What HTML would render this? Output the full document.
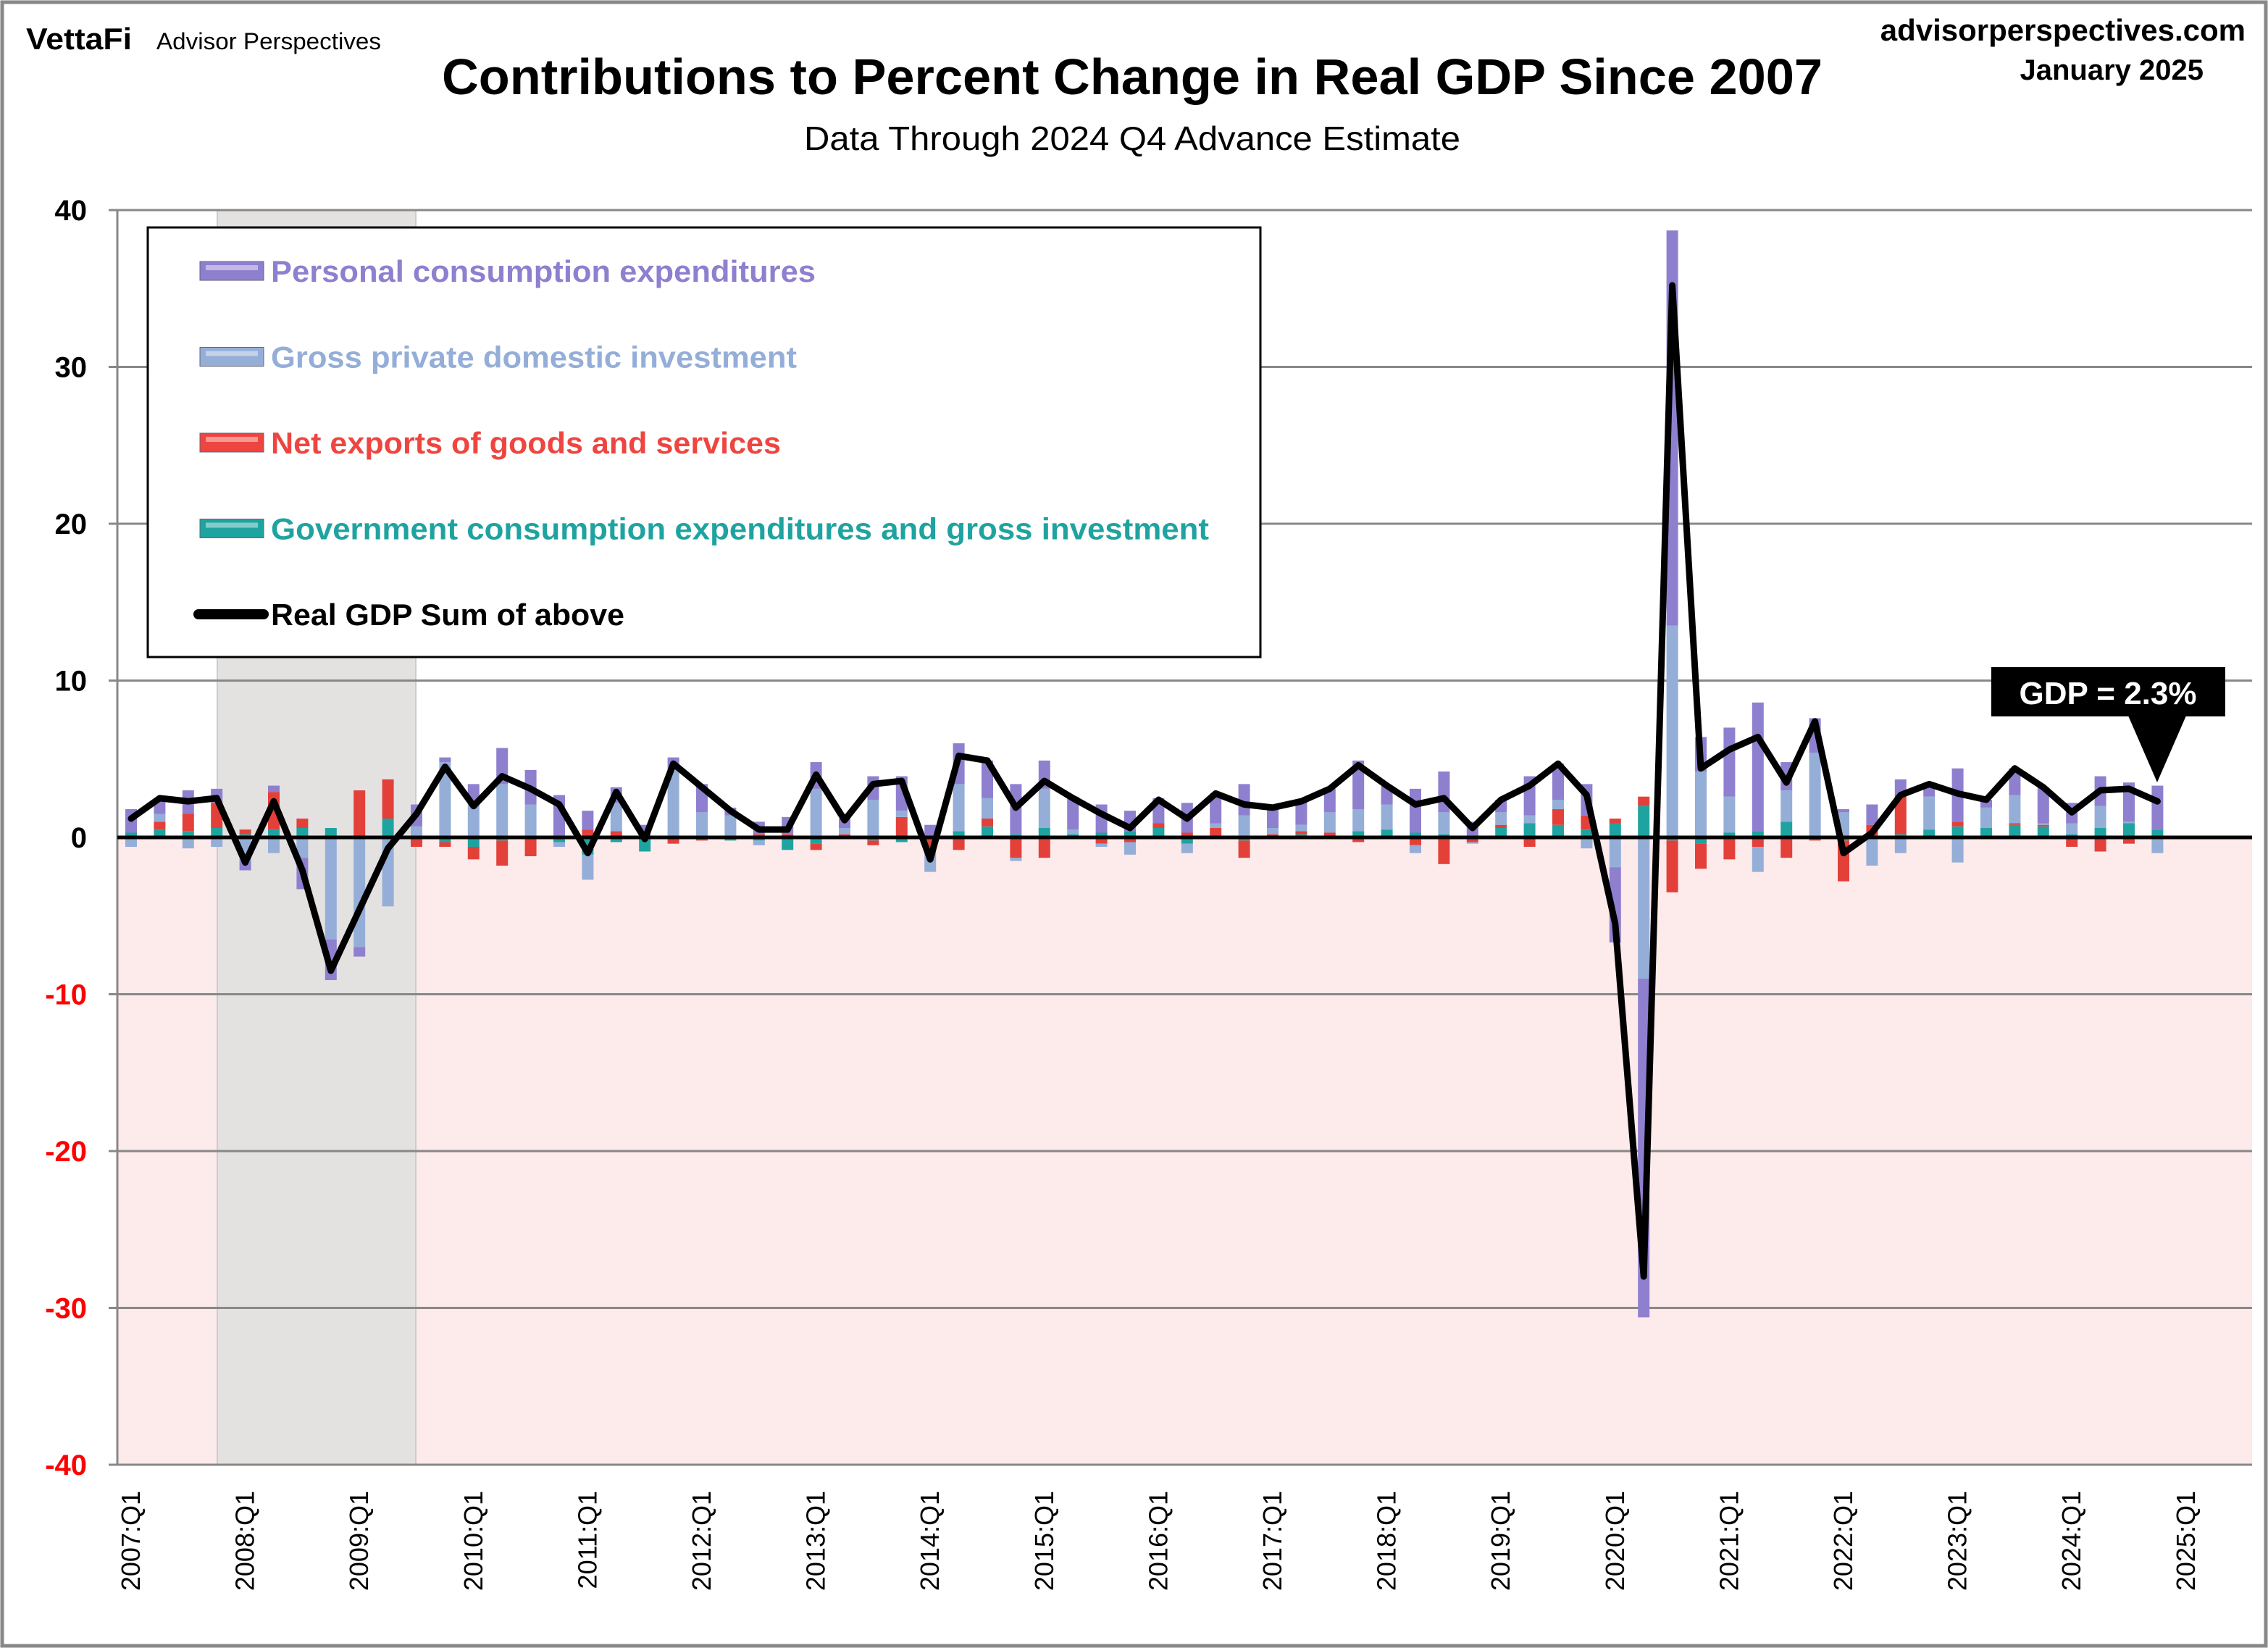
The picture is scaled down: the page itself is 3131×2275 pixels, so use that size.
<!DOCTYPE html>
<html><head><meta charset="utf-8"><style>
html,body{margin:0;padding:0;background:#fff}
body{width:3131px;height:2275px;overflow:hidden;position:relative;font-family:"Liberation Sans",sans-serif}
</style></head><body>
<svg id="c" width="3131" height="2275" xmlns="http://www.w3.org/2000/svg" style="position:absolute;left:0;top:0">
<rect x="3" y="3" width="3125" height="2269" fill="#fff" stroke="#888" stroke-width="5"/>
<text x="36" y="68" font-size="42" font-weight="bold" fill="#000" textLength="146" lengthAdjust="spacingAndGlyphs">VettaFi</text>
<text x="216" y="68" font-size="32" fill="#000" textLength="310" lengthAdjust="spacingAndGlyphs">Advisor Perspectives</text>
<text x="3100" y="56" font-size="42" font-weight="bold" text-anchor="end">advisorperspectives.com</text>
<text x="3042" y="110" font-size="40" font-weight="bold" text-anchor="end">January 2025</text>
<text x="1563" y="130" font-size="70" font-weight="bold" text-anchor="middle" textLength="1906" lengthAdjust="spacingAndGlyphs">Contributions to Percent Change in Real GDP Since 2007</text>
<text x="1563" y="207" font-size="46" text-anchor="middle" textLength="906" lengthAdjust="spacingAndGlyphs">Data Through 2024 Q4 Advance Estimate</text>
<g id="plot"></g>
</svg>
<script>
const NS="http://www.w3.org/2000/svg";
const g=document.getElementById('plot');
function el(t,a,txt){const e=document.createElementNS(NS,t);for(const k in a)e.setAttribute(k,a[k]);if(txt!==undefined)e.textContent=txt;g.appendChild(e);return e;}
const L=162,R=3109,Y0=1156,U=21.65;
const y=v=>Y0-v*U;
el('rect',{x:L,y:Y0,width:R-L,height:y(-40)-Y0,fill:'#fdeaea'});
el('rect',{x:300,y:y(40),width:274,height:y(-40)-y(40),fill:'#e4e1e1',stroke:'#ccc','stroke-width':2});
for(let v=-40;v<=40;v+=10){ if(v===0)continue;
 el('line',{x1:L-12,x2:R,y1:y(v),y2:y(v),stroke:'#888','stroke-width':3});
 el('text',{x:120,y:y(v)+14,'font-size':40,'font-weight':'bold','text-anchor':'end',fill:v<0?'#f00':'#000'},String(v));
}
el('text',{x:120,y:y(0)+14,'font-size':40,'font-weight':'bold','text-anchor':'end'},'0');
el('line',{x1:L,x2:L,y1:y(40),y2:y(-40),stroke:'#888','stroke-width':3});
const D=[[1.5,-0.6,0,0.3],[1,0.5,0.5,0.5],[1.5,-0.7,1.1,0.4],[0.9,-0.6,1.6,0.6],
[-0.6,-1.5,0.3,0.2],[0.4,-1,2.4,0.5],[-2,-1.3,0.6,0.6],[-2.6,-6.5,0,0.6],
[-0.6,-7,3,0],[0,-4.4,2.5,1.2],[1.4,0.6,-0.6,0.1],[0.3,4.8,-0.3,-0.3],
[1.3,2.1,-0.8,-0.6],[2.3,3.4,-1.6,-0.2],[2.2,2.1,-1.2,0],[2.6,-0.3,0.1,-0.3],
[1.2,-1.6,0.5,-1.1],[1,1.8,0.4,-0.3],[0.6,0.2,0,-0.9],[0.8,4.3,-0.3,-0.1],
[1.8,1.6,-0.2,0],[0.5,1.4,0,-0.2],[0.8,-0.3,0.2,-0.2],[1.1,0,0.2,-0.8],
[1.7,3.1,-0.4,-0.4],[0.6,0.4,0.2,-0.1],[1.5,2.4,-0.3,-0.2],[2.2,0.4,1.3,-0.3],
[0.7,-1.5,-0.7,0.1],[2.6,3,-0.8,0.4],[2.4,1.3,0.5,0.7],[3.2,-0.2,-1.3,0.2],
[1.8,2.5,-1.3,0.6],[2.1,0.3,-0.1,0.2],[1.8,-0.2,-0.4,0.3],[1.3,-0.8,-0.3,0.4],
[1.6,-0.1,0.3,0.6],[1.9,-0.6,0.3,-0.4],[1.9,0.3,0.5,0.1],[2,1.4,-1.1,-0.2],
[1.3,0.4,0.2,0],[1.5,0.4,0.2,0.2],[1.5,1.3,0.3,0],[3.1,1.4,-0.3,0.4],
[1.2,1.6,0,0.5],[2.8,-0.5,-0.5,0.3],[2.6,1.4,-1.7,0.2],[1,-0.1,-0.3,0],
[0.8,0.8,0.2,0.6],[2.5,0.5,-0.6,0.9],[2.3,0.6,1,0.8],[2,-0.7,0.9,0.5],
[-4.8,-1.9,0.3,0.9],[-21.6,-9,0.6,2],[25.2,13.5,-3.3,-0.2],[2.2,4.2,-1.6,-0.4],
[4.4,2.3,-1.4,0.3],[8.2,-1.6,-0.6,0.4],[1.8,2,-1.3,1],[2.2,5.3,-0.2,0.1],
[0.2,1.6,-2.6,-0.2],[1.3,-1.8,0.8,0],[1,-1,2.5,0.2],[0.8,2.1,0,0.5],
[3.4,-1.6,0.3,0.7],[0.5,1.3,0,0.6],[1.7,1.8,0.1,0.8],[2.3,0.1,0.1,0.7],
[1.3,0.7,-0.6,0.2],[1.9,1.4,-0.9,0.6],[2.5,0.1,-0.4,0.9],[2.8,-1,0,0.5]];
const GDP=[1.2,2.5,2.3,2.5,-1.6,2.3,-2.1,-8.5,-4.6,-0.7,1.5,4.5,2.0,3.9,3.1,2.1,-1.0,2.9,-0.1,4.7,3.2,1.7,0.5,0.5,4.0,1.1,3.4,3.6,-1.4,5.2,4.9,1.9,3.6,2.5,1.5,0.6,2.4,1.2,2.8,2.1,1.9,2.3,3.1,4.6,3.3,2.1,2.5,0.6,2.4,3.3,4.7,2.7,-5.5,-28.0,35.2,4.4,5.6,6.4,3.5,7.4,-1.0,0.3,2.7,3.4,2.8,2.4,4.4,3.2,1.6,3.0,3.1,2.3];
const COL=['#8f7fcf','#94aed8','#e3403a','#1fa3a0'];
const ORDER=[3,2,1,0];
const cx=i=>181+39.4*i;
D.forEach((d,i)=>{let p=0,n=0;const x=cx(i)-8;
 ORDER.forEach(k=>{const v=d[k];if(v===0)return;let a,b;if(v>0){a=p;b=p+v;p=b;}else{a=n;b=n+v;n=b;}
  const top=y(Math.max(a,b)),h=Math.abs(y(a)-y(b));
  el('rect',{x:x,y:top,width:16,height:Math.max(h,1),fill:COL[k]});});
});
el('line',{x1:L,x2:R,y1:Y0,y2:Y0,stroke:'#000','stroke-width':5});
el('polyline',{points:GDP.map((v,i)=>cx(i)+','+y(v)).join(' '),fill:'none',stroke:'#000','stroke-width':9,'stroke-linejoin':'round','stroke-linecap':'round'});
for(let yr=2007;yr<=2025;yr++){const i=(yr-2007)*4,X=cx(i)+12;
 el('text',{x:0,y:0,'font-size':36,'text-anchor':'end',transform:`translate(${X},2058) rotate(-90)`},yr+':Q1');}
el('rect',{x:204,y:314,width:1536,height:593,fill:'#fff',stroke:'#000','stroke-width':3});
const LG=[['Personal consumption expenditures',COL[0]],['Gross private domestic investment','#94aed8'],['Net exports of goods and services','#ee4540'],['Government consumption expenditures and gross investment','#1fa3a0']];
LG.forEach((l,k)=>{const yy=374+118.5*k;
 el('rect',{x:276,y:yy-13,width:88,height:26,fill:l[1],stroke:'#667',"stroke-width":1});
 el('rect',{x:284,y:yy-8,width:72,height:7,fill:'#fff',opacity:0.45});
 el('text',{x:374,y:yy+15,'font-size':42,'font-weight':'bold',fill:l[1],'textLength':k==3?1295:(k==0?752:(k==1?726:704)),lengthAdjust:'spacingAndGlyphs'},l[0]);});
el('line',{x1:274,x2:364,y1:848,y2:848,stroke:'#000','stroke-width':14,'stroke-linecap':'round'});
el('text',{x:374,y:863,'font-size':42,'font-weight':'bold',textLength:488,lengthAdjust:'spacingAndGlyphs'},'Real GDP Sum of above');
el('rect',{x:2749,y:921,width:323,height:68,fill:'#000'});
el('polygon',{points:'2938,988 3018,988 2978,1080',fill:'#000'});
el('text',{x:2910,y:972,'font-size':44,'font-weight':'bold',fill:'#fff','text-anchor':'middle'},'GDP = 2.3%');
</script>
</body></html>
